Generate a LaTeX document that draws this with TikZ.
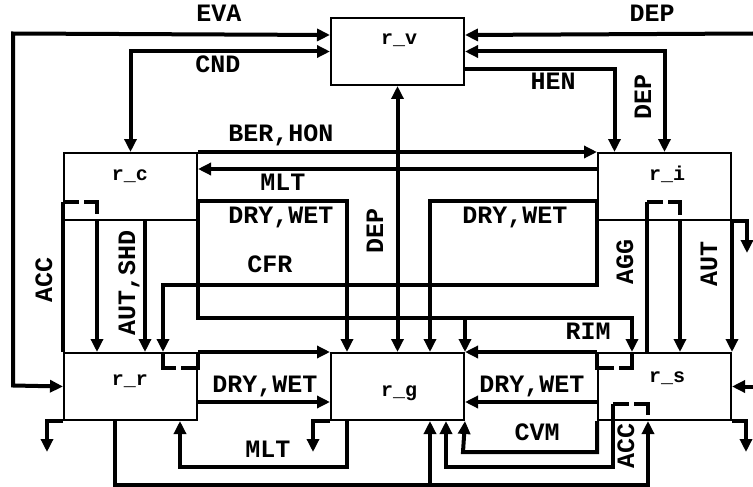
\documentclass[tikz,border=0pt]{standalone}
\usepackage{fontspec}
\setmonofont{Liberation Mono}
\usetikzlibrary{arrows.meta}
\begin{document}
\begin{tikzpicture}[x=1pt,y=-1pt,
  box/.style={draw, line width=2pt, minimum width=133pt, minimum height=67pt, inner sep=0pt, anchor=north west},
  flow/.style={line width=4pt},
  ar/.style={flow, -{Triangle[length=13pt,width=12pt]}},
  bar/.style={flow, {Triangle[length=13pt,width=12pt]}-{Triangle[length=13pt,width=12pt]}},
  dsh/.style={line width=4pt, dash pattern=on 16pt off 5pt on 25pt off 100pt},
  dsr/.style={line width=4pt, dash pattern=on 29pt off 5pt on 31pt off 100pt},
  lab/.style={font=\ttfamily\bfseries\fontsize{25}{25}\selectfont, inner sep=0pt, anchor=base},
  vlab/.style={lab, rotate=90},
  blab/.style={font=\ttfamily\bfseries\fontsize{20}{20}\selectfont, inner sep=0pt, anchor=base}]
\fill[white] (0,0) rectangle (753,487);
\useasboundingbox (0,0) rectangle (753,487);
% boxes
\node[box] (rv) at (330,17) {};
\node[box] (rc) at (63,152) {};
\node[box] (ri) at (597,152) {};
\node[box] (rr) at (63,352) {};
\node[box] (rg) at (330,352) {};
\node[box] (rs) at (597,352) {};
\node[blab] (rvl) at (399,45) {r\_v};
\node[blab] (rcl) at (130,180) {r\_c};
\node[blab] (ril) at (667,180) {r\_i};
\node[blab] (rrl) at (130,385) {r\_r};
\node[blab] (rgl) at (399,396) {r\_g};
\node[blab] (rsl) at (667,382) {r\_s};
% free ends
\coordinate (depin) at (753,33.5);
\coordinate (sin) at (753,385.5);
\coordinate (fi) at (747,253);
\coordinate (fs) at (746,452);
\coordinate (fr) at (47,452);
\coordinate (fg) at (313,452);
% top connectors
\draw[bar] ([yshift=16.5pt]rv.west) -- (13,33.5) -- (13,385.5) -- (rr.west);
\draw[bar] (rv.west) -| (rc.north);
\draw[ar] (depin) -- ([yshift=16.5pt]rv.east);
\draw[bar] (rv.east) -| (ri.north);
\draw[ar] ([yshift=-17.5pt]rv.east) -| ([xshift=-50pt]ri.north);
\draw[bar] (rv.south) -- (rg.north);
% middle
\draw[ar] (rc.north east) -- (ri.north west);
\draw[ar] ([yshift=-17pt]ri.north west) -- ([yshift=-17pt]rc.north east);
\draw[ar] ([yshift=-49pt]rc.north east) -| ([xshift=17pt]rg.north west);
\draw[ar] ([yshift=-49pt]rc.north east) |- (632,318) -- ([xshift=35pt]rs.north west);
\draw[ar] ([yshift=34pt]rg.north east) -- (rg.north east);
\draw[ar] ([yshift=-49pt]ri.north west) |- (163,285) -- ([xshift=100pt]rr.north west);
\draw[ar] ([yshift=-49pt]ri.north west) -| ([xshift=100pt]rg.north west);
% r_c to r_r
\draw[flow] ([yshift=-50pt]rc.north west) -- (rr.north west);
\draw[dsh] ([yshift=-50pt]rc.north west) -- ([xshift=34pt,yshift=-50pt]rc.north west) -- ([xshift=34pt]rc.south west);
\draw[ar] ([xshift=34pt]rc.south west) -- ([xshift=34pt]rr.north west);
\draw[ar] ([xshift=82pt]rc.south west) -- ([xshift=82pt]rr.north west);
% r_i to r_s
\draw[flow] ([xshift=50pt,yshift=-50pt]ri.north west) -- ([xshift=50pt]rs.north west);
\draw[dsh] ([xshift=50pt,yshift=-50pt]ri.north west) -- ([xshift=83pt,yshift=-50pt]ri.north west) -- ([xshift=83pt]ri.south west);
\draw[ar] ([xshift=83pt]ri.south west) -- ([xshift=83pt]rs.north west);
\draw[ar] (ri.south east) -- (rs.north east);
\draw[ar] (ri.south east) -| (fi);
% r_r to r_g
\draw[dsr] ([xshift=100pt]rr.north west) -- ([xshift=100pt,yshift=-16pt]rr.north west) -- ([yshift=-16pt]rr.north east) -- (rr.north east);
\draw[ar] (rr.north east) -- (rg.north west);
\draw[ar] ([yshift=-50pt]rr.north east) -- ([yshift=-50pt]rg.north west);
% r_s to r_g
\draw[dsr] ([xshift=35pt]rs.north west) -- ([xshift=35pt,yshift=-16pt]rs.north west) -- ([yshift=-16pt]rs.north west) -- (rs.north west);
\draw[ar] (rs.north west) -- (rg.north east);
\draw[ar] ([yshift=-50pt]rs.north west) -- ([yshift=-50pt]rg.north east);
% bottom
\draw[ar] (rs.east -| sin) -- (rs.east);
\draw[ar] (rs.south east) -| (fs);
\draw[ar] (rr.south west) -| (fr);
\draw[ar] (rg.south west) -| (fg);
\draw[ar] ([xshift=17pt]rg.south west) |- (180,467) -- ([xshift=117pt]rr.south west);
\draw[ar] ([xshift=52pt]rr.south west) |- (648,485) -- ([xshift=51pt]rs.south west);
\draw[ar] ([xshift=100pt,yshift=-66pt]rg.south west) -- ([xshift=100pt]rg.south west);
\draw[ar] (rs.south west) |- (463,452) -- (rg.south east);
\draw[ar] ([xshift=16pt,yshift=17pt]rs.south west) |- (446,467) -- ([xshift=116pt]rg.south west);
\draw[dsh] ([xshift=16pt,yshift=17pt]rs.south west) -- ([xshift=51pt,yshift=17pt]rs.south west) -- ([xshift=51pt]rs.south west);
% labels
\node[lab] (leva) at (219,22) {EVA};
\node[lab] (ldep1) at (652,22) {DEP};
\node[lab] (lcnd) at (218,73) {CND};
\node[lab] (lhen) at (553,90) {HEN};
\node[vlab] (ldep2) at (651,97) {DEP};
\node[lab] (lber) at (281,142) {BER,HON};
\node[lab] (lmlt1) at (283,190) {MLT};
\node[lab] (ldw1) at (281,223) {DRY,WET};
\node[lab] (ldw2) at (515,223) {DRY,WET};
\node[vlab] (ldep3) at (383,231) {DEP};
\node[lab] (lcfr) at (270,272) {CFR};
\node[vlab] (lacc1) at (52,280) {ACC};
\node[vlab] (laut1) at (135,283) {AUT,SHD};
\node[vlab] (lagg) at (633,262) {AGG};
\node[vlab] (laut2) at (717,264) {AUT};
\node[lab] (lrim) at (588,339) {RIM};
\node[lab] (ldw3) at (265,392) {DRY,WET};
\node[lab] (ldw4) at (532,392) {DRY,WET};
\node[lab] (lcvm) at (537,440) {CVM};
\node[lab] (lmlt2) at (268,457) {MLT};
\node[vlab] (lacc2) at (634,446) {ACC};
\end{tikzpicture}
\end{document}
